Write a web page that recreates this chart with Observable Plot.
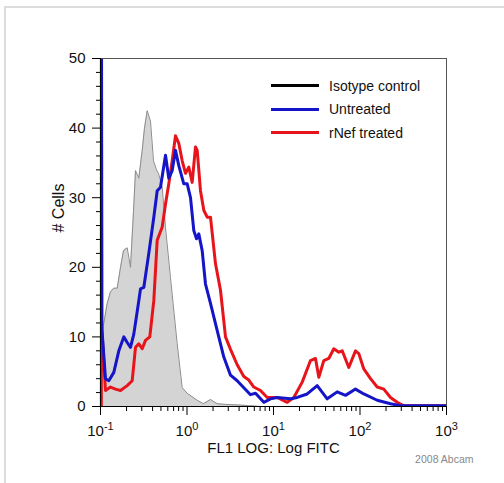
<!DOCTYPE html>
<html>
<head>
<meta charset="utf-8">
<script src="https://cdn.jsdelivr.net/npm/d3@7"></script>
<script src="https://cdn.jsdelivr.net/npm/@observablehq/plot@0.6"></script>
<style>
  html, body { margin: 0; padding: 0; background: #fff; }
  #wrap { position: relative; width: 504px; height: 483px; overflow: hidden; font-family: "Liberation Sans", Arial, sans-serif; }
  #border { position: absolute; left: 4px; top: 6px; width: 520px; height: 500px; border-left: 2px solid #dcdcdc; border-top: 2px solid #dcdcdc; }
  #legend { position: absolute; left: 271px; top: 74px; font-size: 14px; color: #111; }
  .row { display: flex; align-items: center; height: 23.5px; }
  .sw { width: 48px; height: 0; border-top: 3px solid; margin-right: 10px; }
</style>
</head>
<body>
<div id="wrap">
  <div id="border"></div>
  <div id="chart"></div>
  <div id="legend"></div>
</div>
<script>
// Series names and colours
const seriesNames = ["Isotype control", "Untreated", "rNef treated"];
const seriesColors = ["#000000", "#1414c8", "#e8141b"];

// Isotype control (filled grey histogram): FL1 value, # cells
const isoX = [0.1, 0.1027, 0.1195, 0.1305, 0.1425, 0.156, 0.1703, 0.1845, 0.2035, 0.2222, 0.2407, 0.2539, 0.2772, 0.3034, 0.3226, 0.3466, 0.3784, 0.41, 0.444, 0.4683, 0.5168, 0.5643, 0.6445, 0.7704, 0.8801, 1.005, 1.312, 1.551, 1.869, 2.235, 2.8, 4.155, 7.07];
const isoY = [0, 10, 14.8, 16.5, 17, 17, 20, 22.4, 22.8, 20, 28, 33.9, 32.8, 36.8, 40, 42.5, 41, 35.3, 34, 33.5, 31.5, 25.7, 18.5, 9, 2.7, 1.9, 0.9, 0.4, 1, 0.4, 0.3, 0.2, 0];

// Untreated (blue)
const untreatedX = [0.1027, 0.1035, 0.1142, 0.1247, 0.1425, 0.1628, 0.1859, 0.2035, 0.2222, 0.2427, 0.2772, 0.29, 0.3166, 0.3617, 0.4133, 0.4524, 0.4939, 0.5643, 0.616, 0.6744, 0.7364, 0.8039, 0.9183, 1.005, 1.098, 1.198, 1.288, 1.369, 1.498, 1.636, 1.869, 2.235, 2.664, 3.184, 3.805, 4.155, 5.421, 6.194, 7.726, 9.234, 11.04, 15.73, 18.79, 24.53, 32.0, 41.77, 54.5, 68.0, 88.7, 110.6, 158.1, 225.3, 293.9, 1000];
const untreatedY = [60, 11.4, 4.0, 3.7, 4.9, 8.0, 10.0, 9.2, 8.5, 10.4, 15.2, 16.9, 17.1, 22, 27.2, 31, 31.5, 36.1, 32.8, 33.9, 36.8, 34.6, 32, 32, 30, 25.3, 24.1, 24.8, 22.4, 17.6, 14.8, 10.9, 7.1, 4.5, 3.7, 3.2, 1.7, 1.9, 0.6, 1.1, 1.3, 1.1, 1.3, 1.8, 3.0, 1.1, 2.1, 1.6, 2.5, 1.8, 0.9, 0.4, 0.1, 0.1];

// rNef treated (red)
const treatedX = [0.1022, 0.1022, 0.1035, 0.1142, 0.1305, 0.149, 0.1703, 0.2035, 0.2325, 0.2539, 0.2772, 0.3034, 0.3312, 0.3714, 0.4133, 0.4524, 0.5168, 0.5643, 0.616, 0.6744, 0.7364, 0.8039, 0.8801, 0.9609, 1.049, 1.148, 1.254, 1.312, 1.432, 1.564, 1.712, 1.869, 2.135, 2.439, 2.787, 3.184, 3.805, 4.536, 5.182, 5.92, 7.074, 8.458, 11.04, 14.4, 17.17, 21.47, 26.78, 30.59, 33.4, 38.14, 43.58, 49.8, 56.9, 62.3, 74.2, 88.7, 96.9, 110.6, 132.3, 158.1, 188.4, 225.3, 269.2, 320.9, 1000];
const treatedY = [0, 60, 11.2, 2.3, 2.8, 2.5, 2.3, 3.0, 3.7, 8.5, 9.0, 8.3, 9.5, 10, 15.2, 23.9, 25.8, 29.1, 32, 35.3, 38.9, 37.8, 35.3, 33.5, 34.4, 32.2, 37.3, 36.8, 31, 28.2, 27.2, 27.2, 20.5, 16.7, 10, 8.2, 6.0, 4.3, 3.8, 2.8, 2.3, 1.3, 1.3, 0.6, 1.3, 3.5, 6.6, 6.9, 4.2, 6.6, 6.9, 8.3, 7.8, 8.0, 5.6, 8.0, 7.6, 5.4, 4.0, 2.8, 2.5, 1.3, 0.6, 0.1, 0.1];

// Axis ticks
const xMajor = [0.1, 1, 10, 100, 1000];
const xMajorBase = ["10", "10", "10", "10", "10"];
const xMajorExp = ["-1", "0", "1", "2", "3"];
const xMinor = [];
for (const d of [0.1, 1, 10, 100]) for (let k = 2; k <= 9; k++) xMinor.push(+(d * k).toPrecision(3));
const yMajor = [0, 10, 20, 30, 40, 50];
const yMinor = d3.range(0, 51, 2).filter(v => v % 10 !== 0);

const xTitle = "FL1 LOG: Log FITC";
const yTitle = "# Cells";
const credit = "2008 Abcam";

const iso = isoX.map((x, i) => ({x, y: isoY[i]}));
const untreated = untreatedX.map((x, i) => ({x, y: untreatedY[i]}));
const treated = treatedX.map((x, i) => ({x, y: treatedY[i]}));

const plot = Plot.plot({
  width: 504,
  height: 483,
  marginLeft: 100,
  marginRight: 58,
  marginTop: 58,
  marginBottom: 77,
  style: {fontFamily: '"Liberation Sans", Arial, sans-serif', background: "transparent", color: "#111"},
  x: {type: "log", domain: [0.1, 1000], axis: null},
  y: {domain: [0, 50], axis: null},
  marks: [
    Plot.areaY(iso, {x: "x", y: "y", fill: "#d4d4d4"}),
    Plot.lineY(iso, {x: "x", y: "y", stroke: "#8c8c8c", strokeWidth: 1}),
    Plot.lineY(treated, {x: "x", y: "y", stroke: seriesColors[2], strokeWidth: 3, clip: true}),
    Plot.lineY(untreated, {x: "x", y: "y", stroke: seriesColors[1], strokeWidth: 3, clip: true}),
    Plot.frame({stroke: "#555"}),
    Plot.ruleY([0], {stroke: "#000", strokeWidth: 1.2}),
    Plot.ruleX([0.1], {stroke: "#000", strokeWidth: 1.2}),
    Plot.axisY({ticks: yMajor, tickSize: 8, tickPadding: 7, fontSize: 15, label: null, stroke: "#000"}),
    Plot.axisY({ticks: yMinor, tickSize: 4, tickFormat: () => "", label: null, stroke: "#000"}),
    Plot.axisX({ticks: xMajor, tickSize: 9, tickFormat: () => "", label: null, stroke: "#000"}),
    Plot.axisX({ticks: xMinor, tickSize: 5, tickFormat: () => "", label: null, stroke: "#000"}),
    Plot.text(xMajor, {x: d => d, frameAnchor: "bottom", dy: 29, fontSize: 15, fill: "#111",
      text: (d, i) => xMajorBase[i] + "^" + xMajorExp[i]}),
    Plot.text([yTitle], {frameAnchor: "left", dx: -42, rotate: -90, fontSize: 16, fill: "#111"}),
    Plot.text([xTitle], {frameAnchor: "bottom", dy: 46, fontSize: 15, fill: "#111"}),
    Plot.text([credit], {frameAnchor: "bottom-right", textAnchor: "end", dx: 27, dy: 56, fontSize: 10.5, fill: "#888"})
  ]
});

// superscript exponents on x tick labels
d3.select(plot).selectAll("text").each(function() {
  const s = this.textContent;
  if (!s.includes("^")) return;
  const [base, exp] = s.split("^");
  const t = d3.select(this);
  t.selectAll("*").remove();
  t.text(null);
  t.append("tspan").text(base);
  t.append("tspan").attr("dy", "-0.5em").attr("font-size", "11px").text(exp);
});

const chart = document.getElementById("chart");
chart.style.position = "absolute";
chart.style.left = "0px";
chart.style.top = "0px";
chart.appendChild(plot);

const legend = d3.select("#legend");
seriesNames.forEach((name, i) => {
  const row = legend.append("div").attr("class", "row");
  row.append("div").attr("class", "sw").style("border-top-color", seriesColors[i]);
  row.append("span").text(name);
});
</script>
</body>
</html>
